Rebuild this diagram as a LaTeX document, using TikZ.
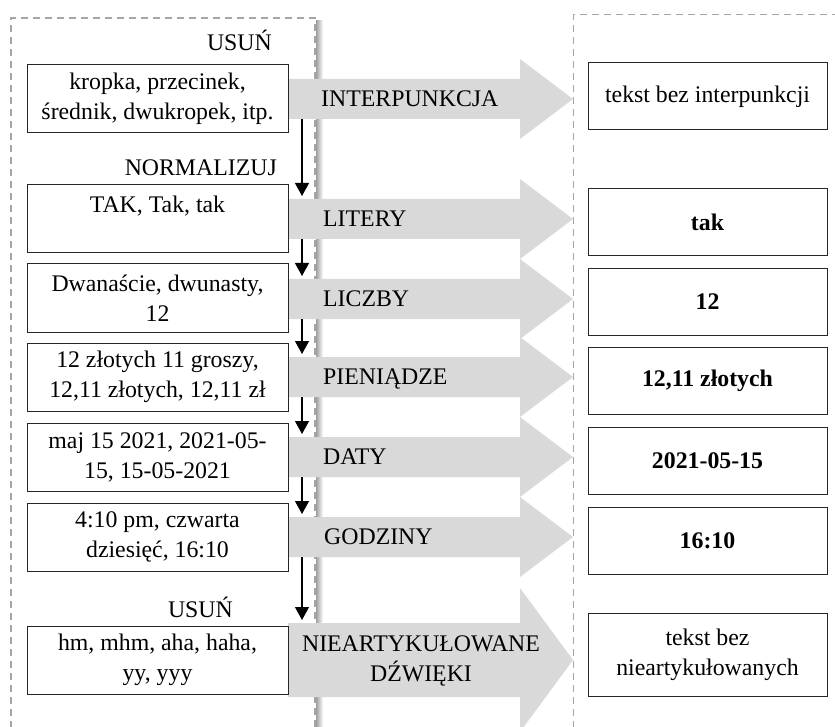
\documentclass[tikz,border=0pt]{standalone}
\usepackage{fontspec}
\setmainfont{Liberation Serif}
\usetikzlibrary{arrows.meta}
\definecolor{arrowgrey}{RGB}{217,217,217}
\definecolor{panelgrey}{RGB}{165,165,165}

\begin{document}
\begin{tikzpicture}[x=1pt,y=-1pt,
  every node/.style={font=\fontsize{23.8}{30}\selectfont, inner sep=0pt},
  srcbox/.style={draw=black!85, line width=1pt, minimum width=261pt,
    minimum height=68pt, align=center},
  outbox/.style={draw=black!85, line width=1pt, minimum width=239pt,
    minimum height=67pt, align=center},
  result/.style={outbox, font=\fontsize{23.8}{30}\selectfont\bfseries},
  panel/.style={draw=panelgrey, line width=1.3pt, dash pattern=on 7pt off 5pt},
  flow/.style={line width=1.2pt, shorten >=3pt,
    -{Triangle[width=14pt,length=13pt]}},
  steplabel/.style={anchor=base west},
  heading/.style={anchor=base east},
  pics/blockarrow/.style args={#1/#2}{code={
    \fill[arrowgrey] (0,-#1) -- (232,-#1) -- (232,-#2) -- (285,0)
      -- (232,#2) -- (232,#1) -- (0,#1) -- cycle;
    \coordinate (-top) at (14,-#1);
    \coordinate (-bot) at (14,#1);
  }}
]
\useasboundingbox (0,0) rectangle (835,727);

% panels: source forms (left, with shadow) and results (right)
\shade[left color=black!38, right color=white] (316,21) rectangle (323,740);
\draw[panel] (11,740) -- (11,18) -- (315,18) -- (315,740);
\draw[panel, line width=1pt] (573,740) -- (573,15) -- (850,15);

% processing steps
\pic (a1) at (288,99)  {blockarrow=20/40};
\pic (a2) at (288,219) {blockarrow=20/40};
\pic (a3) at (288,299) {blockarrow=20/40};
\pic (a4) at (288,377) {blockarrow=20/40};
\pic (a5) at (288,457) {blockarrow=20/40};
\pic (a6) at (288,537) {blockarrow=20/40};
\pic (a7) at (288,660) {blockarrow=37/72};

\node[steplabel] (l1) at (321,106.5) {INTERPUNKCJA};
\node[steplabel] (l2) at (323,226.5) {LITERY};
\node[steplabel] (l3) at (323,306.5) {LICZBY};
\node[steplabel] (l4) at (323,384.5) {PIENIĄDZE};
\node[steplabel] (l5) at (323,464.5) {DATY};
\node[steplabel] (l6) at (324,544.5) {GODZINY};
\node[align=center] (l7) at (421,661) {NIEARTYKUŁOWANE\\DŹWIĘKI};

% order of the steps
\draw[flow] (a1-bot) -- (a2-top);
\draw[flow] (a2-bot) -- (a3-top);
\draw[flow] (a3-bot) -- (a4-top);
\draw[flow] (a4-bot) -- (a5-top);
\draw[flow] (a5-bot) -- (a6-top);
\draw[flow] (a6-bot) -- (a7-top);

% headings
\node[heading] (h1) at (272,51)  {USUŃ};
\node[heading] (h2) at (277,176) {NORMALIZUJ};
\node[heading] (h3) at (233,617) {USUŃ};

% source forms
\node[srcbox] (s1) at (157.5,99)  {kropka, przecinek,\\ średnik, dwukropek, itp.};
\node[srcbox] (s2) at (157.5,219) {TAK, Tak, tak\\ ~};
\node[srcbox] (s3) at (157.5,298) {Dwanaście, dwunasty,\\ 12};
\node[srcbox] (s4) at (157.5,377) {12 złotych 11 groszy,\\ 12,11 złotych, 12,11 zł};
\node[srcbox] (s5) at (157.5,457) {maj 15 2021, 2021-05-\\ 15, 15-05-2021};
\node[srcbox] (s6) at (157.5,537) {4:10 pm, czwarta\\ dziesięć, 16:10};
\node[srcbox] (s7) at (157.5,660) {hm, mhm, aha, haha,\\ yy, yyy};

% results
\node[outbox] (r1) at (707.5,96.5)  {tekst bez interpunkcji};
\node[result] (r2) at (707.5,222)   {tak};
\node[result] (r3) at (707.5,302)   {12};
\node[result] (r4) at (707.5,380.5) {12,11 złotych};
\node[result] (r5) at (707.5,460.5) {2021-05-15};
\node[result] (r6) at (707.5,540.5) {16:10};
\node[outbox, minimum height=83pt] (r7) at (707.5,654.5) {tekst bez\\ nieartykułowanych};
\end{tikzpicture}
\end{document}
